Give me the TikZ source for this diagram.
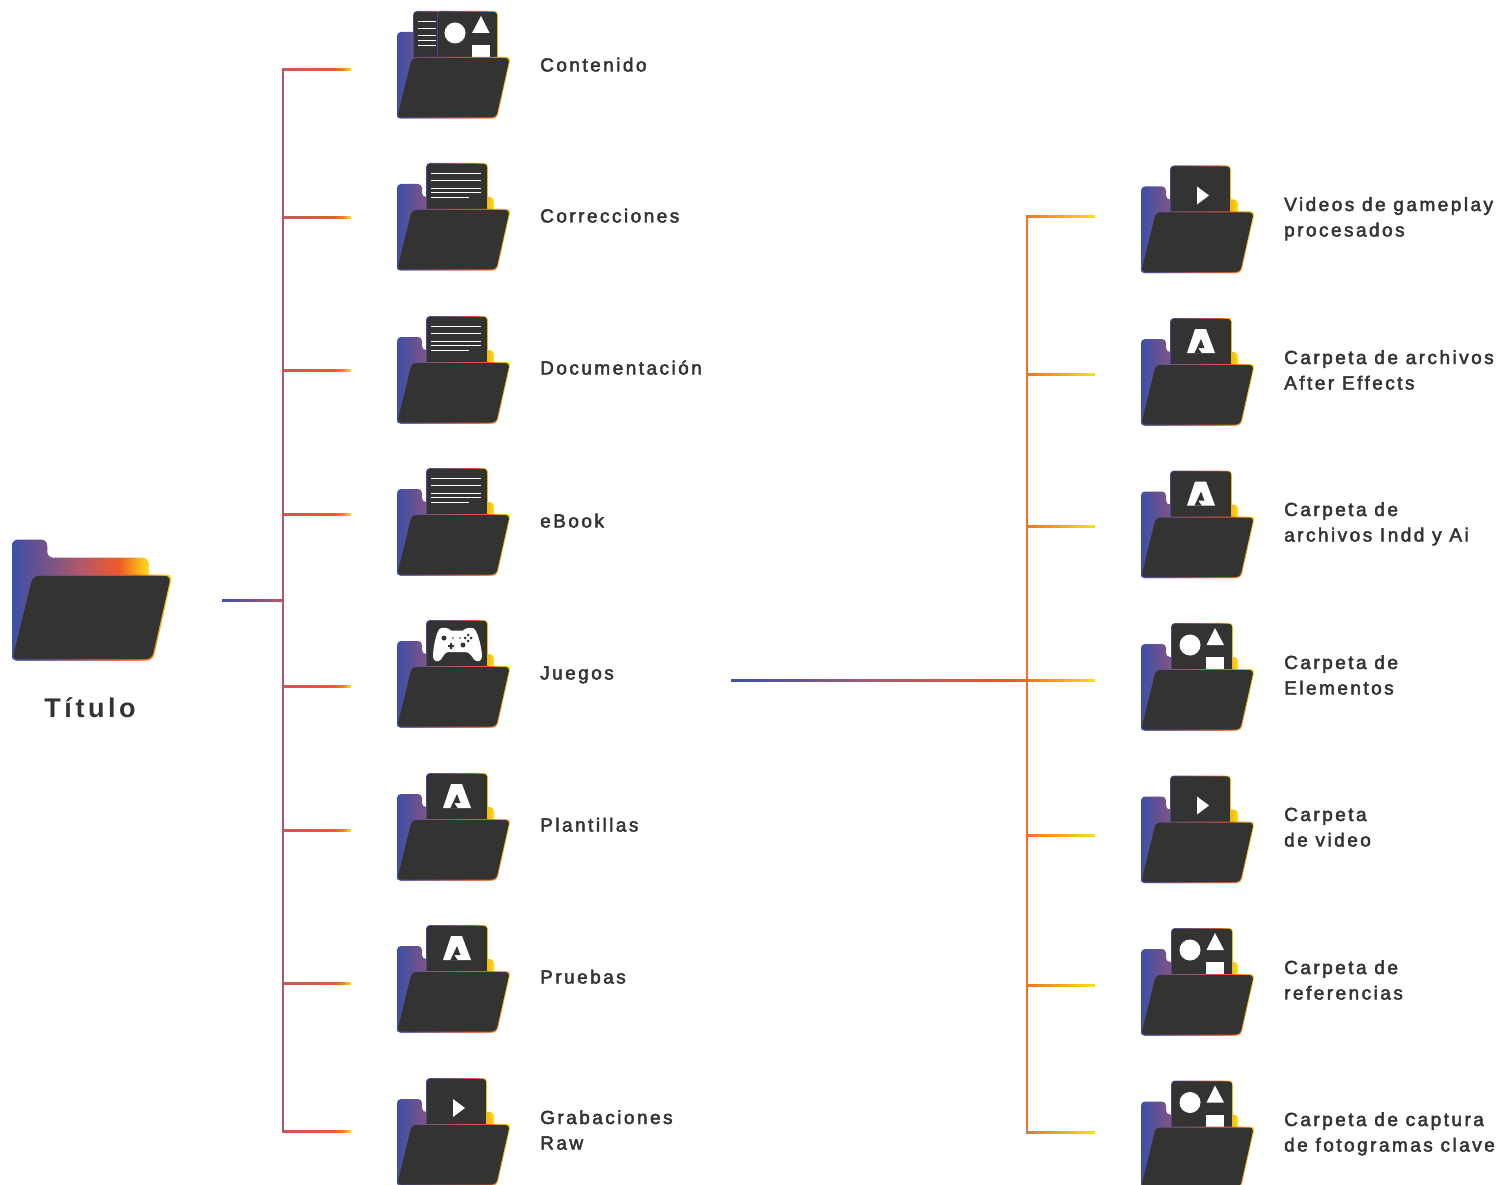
\documentclass[tikz,border=0pt]{standalone}
\usepackage{fontspec}
\setmainfont{Liberation Sans}[LetterSpace=13,FakeBold=2.5,BoldFeatures={FakeBold=0}]
\usepackage{xcolor}
\usepackage{tikz}
\definecolor{folderdark}{RGB}{51,51,50}
\definecolor{trunkleft}{RGB}{180,85,100}
\definecolor{trunkright}{RGB}{240,115,40}
\pgfdeclarehorizontalshading{foldergrad}{100bp}{rgb(0bp)=(0.24,0.31,0.65);rgb(25bp)=(0.24,0.31,0.65);rgb(40bp)=(0.5,0.33,0.52);rgb(50bp)=(0.69,0.35,0.41);rgb(64bp)=(0.94,0.35,0.16);rgb(75bp)=(0.98,0.88,0.08);rgb(100bp)=(0.98,0.88,0.08)}
\pgfdeclarehorizontalshading{stemleft}{100bp}{rgb(0bp)=(0.24,0.31,0.65);rgb(25bp)=(0.24,0.31,0.65);rgb(75bp)=(0.69,0.35,0.41);rgb(100bp)=(0.69,0.35,0.41)}
\pgfdeclarehorizontalshading{stubleft}{100bp}{rgb(0bp)=(0.76,0.36,0.36);rgb(25bp)=(0.76,0.36,0.36);rgb(62bp)=(0.91,0.35,0.18);rgb(69bp)=(0.94,0.50,0.16);rgb(75bp)=(0.98,0.88,0.08);rgb(100bp)=(0.98,0.88,0.08)}
\pgfdeclarehorizontalshading{stubright}{100bp}{rgb(0bp)=(0.94,0.45,0.16);rgb(25bp)=(0.94,0.45,0.16);rgb(75bp)=(0.98,0.88,0.08);rgb(100bp)=(0.98,0.88,0.08)}
\pgfdeclarehorizontalshading{stemright}{100bp}{rgb(0bp)=(0.24,0.31,0.65);rgb(25bp)=(0.24,0.31,0.65);rgb(45bp)=(0.63,0.37,0.45);rgb(64bp)=(0.92,0.35,0.16);rgb(66bp)=(0.94,0.45,0.16);rgb(75bp)=(0.98,0.88,0.08);rgb(100bp)=(0.98,0.88,0.08)}
\newcommand{\wire}[3]{\shade[shading=#3] ([yshift=1.1pt]#1) rectangle ([yshift=-1.1pt]#2);}
\newcommand{\sheet}[2]{%
  \shade[shading=foldergrad,rounded corners=4] (#1,-21) rectangle (#2,30);
  \fill[folderdark,rounded corners=3] ({#1+.9},-20.1) rectangle ({#2-.9},30);}
\tikzset{
  cornerrad/.store in=\cornerrad,cornerrad=4,
  itemlabel/.style={anchor=base west,align=left,inner sep=0pt,yshift=.5pt,text=folderdark,font=\fontsize{19}{25.5}\selectfont},
  folderback/.pic={
    \shade[shading=foldergrad,rounded corners=\cornerrad] (0,0) -- (25,0) -- (25,13) -- (97,13) -- (97,86.5) -- (0,86.5) -- cycle;},
  folderfront/.pic={
    \shade[shading=foldergrad,rounded corners=\cornerrad] (14,25) -- (114,25) -- (100,86.5) -- (-1,86.5) -- cycle;
    \fill[folderdark,rounded corners=\cornerrad] (14.8,26) -- (112.8,26) -- (99.2,85.5) -- (.2,85.5) -- cycle;},
  papertext/.pic={
    \sheet{29}{91}
    \foreach \ly in {-11,-4,4,8}{\draw[white,line width=.9] (34,\ly) -- (84,\ly);}
    \draw[white,line width=.9] (34,13) -- (72,13);},
  paperplay/.pic={
    \sheet{29}{90}
    \fill[white] (56,0) -- (68,9) -- (56,18) -- cycle;},
  paperadobe/.pic={
    \sheet{29}{91}
    \fill[white] (54,-10) -- (65,-10) -- (74,14) -- (46,14) -- cycle;
    \fill[folderdark] (60,0) -- (53.5,14) -- (60.7,14) -- (57,9) -- (63.5,9) -- cycle;},
  papershapes/.pic={
    \sheet{30}{92}
    \fill[white] (49,1) circle (10.5);
    \fill[white] (74,-16) -- (65.5,1) -- (83,1) -- cycle;
    \fill[white] (65,13) rectangle (83,30);},
  papercontent/.pic={
    \sheet{16}{60}
    \foreach \ly in {-11,-4,3,8,13}{\draw[white,line width=.9] (21,\ly) -- (39,\ly);}
    \sheet{40}{101}
    \fill[white] (58,1) circle (10.5);
    \fill[white] (84,-16) -- (75,1) -- (92.5,1) -- cycle;
    \fill[white] (75,13) rectangle (93,30);},
  papergame/.pic={
    \sheet{29}{91}
    \fill[white] (43,-12.5) .. controls (47,-14) and (52,-13) .. (54,-10.5) -- (66,-10.5)
      .. controls (68,-13) and (73,-14) .. (77,-12.5) .. controls (81,-9) and (85,8) .. (85,15)
      .. controls (85,21) and (80,21.5) .. (77,18.5) .. controls (74,14) and (72,11) .. (68,11)
      -- (52,11) .. controls (48,11) and (47,14) .. (44,18.5) .. controls (41,21.5) and (36,21) .. (36,15)
      .. controls (36,8) and (39,-9) .. (43,-12.5) -- cycle;
    \fill[folderdark] (47,-3) circle (2.5) (66,4) circle (2.5) (56,-3) circle (.8) (63,-3) circle (.8);
    \fill[folderdark] (71,-6) circle (1.5) (71,0) circle (1.5) (68,-3) circle (1.5) (74,-3) circle (1.5);
    \fill[folderdark] (53,2) rectangle (55,8) (51,4) rectangle (57,6);},
}

\begin{document}
\begin{tikzpicture}[x=1pt,y=-1pt]
  \useasboundingbox (0,0) rectangle (1505,1185);

  % title folder
  \pic[xscale=1.41,yscale=1.4,cornerrad=6] at (12,539.5) {folderback};
  \pic[xscale=1.41,yscale=1.4,cornerrad=6] at (12,539.5) {folderfront};
  \node[anchor=base,inner sep=0pt,text=folderdark,font=\fontsize{27}{27}\selectfont\bfseries] (titlelabel) at (90,717) {Título};

  % left tree
  \coordinate (lstem) at (222,600.5);
  \coordinate (lhub) at (283,600.5);
  \coordinate (ltop) at (283,68.5);
  \coordinate (lbot) at (283,1132.7);
  \wire{lstem}{lhub}{stemleft}
  \foreach \sy [count=\i] in {69.5,217.5,370.5,514.5,686.5,830.5,983.5,1131.5}{
    \coordinate (ljoin\i) at (283,\sy);
    \coordinate (lend\i) at (351,\sy);
    \wire{ljoin\i}{lend\i}{stubleft}
  }
  \draw[trunkleft,line width=2.8] (ltop) -- (lbot);

  % right tree
  \coordinate (rstem) at (731,680.5);
  \coordinate (rmid) at (1095,680.5);
  \coordinate (rtop) at (1027,215.5);
  \coordinate (rbot) at (1027,1133.7);
  \wire{rstem}{rmid}{stemright}
  \foreach \sy [count=\i] in {216.5,374.5,526.5,835.5,985.5,1132.5}{
    \coordinate (rjoin\i) at (1027,\sy);
    \coordinate (rend\i) at (1095,\sy);
    \wire{rjoin\i}{rend\i}{stubright}
  }
  \draw[trunkright,line width=2.8] (rtop) -- (rbot);

  % folders
  \foreach \fx/\fy/\kind in {397/32/papercontent,397/184/papertext,397/337/papertext,397/489/papertext,
      397/641/papergame,397/794/paperadobe,397/946/paperadobe,397/1099/paperplay,
      1141/186.5/paperplay,1141/339/paperadobe,1141/491.5/paperadobe,1141/644/papershapes,
      1141/796.5/paperplay,1141/949/papershapes,1141/1101.5/papershapes}{
    \pic at (\fx,\fy) {folderback};
    \pic at (\fx,\fy) {\kind};
    \pic at (\fx,\fy) {folderfront};
  }

  % labels
  \node[itemlabel] (contenido) at (540,72) {Contenido};
  \node[itemlabel] (correcciones) at (540,223) {Correcciones};
  \node[itemlabel] (documentacion) at (540,375) {Documentación};
  \node[itemlabel] (ebook) at (540,528) {eBook};
  \node[itemlabel] (juegos) at (540,680) {Juegos};
  \node[itemlabel] (plantillas) at (540,832) {Plantillas};
  \node[itemlabel] (pruebas) at (540,984) {Pruebas};
  \node[itemlabel] (grabaciones) at (540,1150) {Grabaciones\\Raw};
  \node[itemlabel] (gameplay) at (1284,237) {Videos de gameplay\\procesados};
  \node[itemlabel] (aftereffects) at (1284,390) {Carpeta de archivos\\After Effects};
  \node[itemlabel] (indd) at (1284,542) {Carpeta de\\archivos Indd y Ai};
  \node[itemlabel] (elementos) at (1284,695) {Carpeta de\\Elementos};
  \node[itemlabel] (video) at (1284,847) {Carpeta\\de video};
  \node[itemlabel] (referencias) at (1284,1000) {Carpeta de\\referencias};
  \node[itemlabel] (fotogramas) at (1284,1152) {Carpeta de captura\\de fotogramas clave};
\end{tikzpicture}
\end{document}
